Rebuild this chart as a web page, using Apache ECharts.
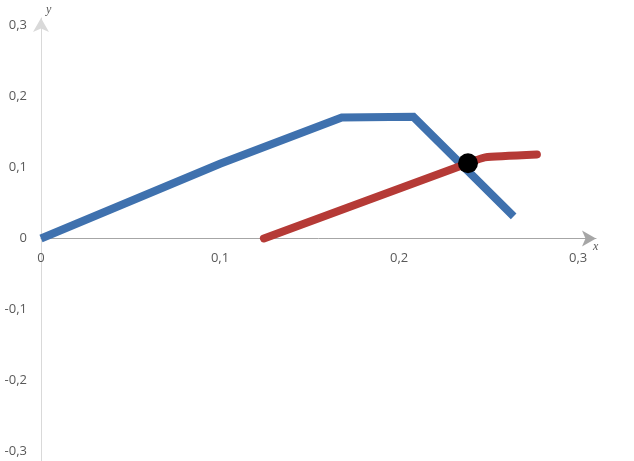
<!DOCTYPE html>
<html>
<head>
<meta charset="utf-8">
<script src="https://cdn.jsdelivr.net/npm/echarts@6/dist/echarts.min.js"></script>
<style>html,body{margin:0;padding:0;background:#fff}#c{width:634px;height:461px}</style>
</head>
<body>
<div id="c"></div>
<script>
var blueLine = [[0, 0], [0.1, 0.105], [0.168, 0.170], [0.208, 0.171], [0.264, 0.031]];
var redLine = [[0.1245, 0], [0.2385, 0.1058], [0.248, 0.114], [0.277, 0.118]];
var intersection = [[0.2385, 0.1058]];
var xTicks = [0, 0.1, 0.2, 0.3];
var yTicks = [-0.3, -0.2, -0.1, 0, 0.1, 0.2, 0.3];

function fmt(ticks) {
  return function (v) {
    for (var i = 0; i < ticks.length; i++) {
      if (Math.abs(v - ticks[i]) < 1e-6) return String(ticks[i]).replace('.', ',');
    }
    return '';
  };
}

var chart = echarts.init(document.getElementById('c'));
chart.setOption({
  animation: false,
  grid: { left: 41, top: 18, width: 555, height: 448, outerBoundsMode: 'none', containLabel: false },
  xAxis: {
    type: 'value', min: 0, max: 0.31, interval: 0.1, position: 'bottom', offset: -227.6,
    splitLine: { show: false },
    axisTick: { show: false },
    axisLine: { onZero: false, lineStyle: { color: '#a6a6a6', width: 1 }, symbol: ['none', 'arrow'], symbolSize: [12, 14] },
    axisLabel: { formatter: fmt(xTicks), color: '#595959', fontSize: 13, fontFamily: 'Open Sans', margin: 13, showMaxLabel: false }
  },
  yAxis: {
    type: 'value', min: -0.32, max: 0.31, interval: 0.01,
    splitLine: { show: false },
    axisTick: { show: false },
    axisLine: { onZero: false, lineStyle: { color: '#d9d9d9', width: 1 }, symbol: ['none', 'arrow'], symbolSize: [12, 14] },
    axisLabel: { formatter: fmt(yTicks), color: '#595959', fontSize: 13, fontFamily: 'Open Sans', margin: 14, showMaxLabel: false, showMinLabel: false }
  },
  graphic: [
    { type: 'text', left: 46, top: 4, style: { text: 'y', font: 'italic 12px "Liberation Serif"', fill: '#595959' } },
    { type: 'text', left: 593, top: 241, style: { text: 'x', font: 'italic 12px "Liberation Serif"', fill: '#595959' } }
  ],
  series: [
    { type: 'line', data: blueLine, symbol: 'none', lineStyle: { color: '#3f71ae', width: 8, join: 'miter' } },
    { type: 'line', data: redLine, symbol: 'none', smooth: 0.15, lineStyle: { color: '#b53a36', width: 8, cap: 'round' } },
    { type: 'scatter', data: intersection, symbolSize: 20, itemStyle: { color: '#000', opacity: 1 }, z: 5 }
  ]
});
</script>
</body>
</html>
